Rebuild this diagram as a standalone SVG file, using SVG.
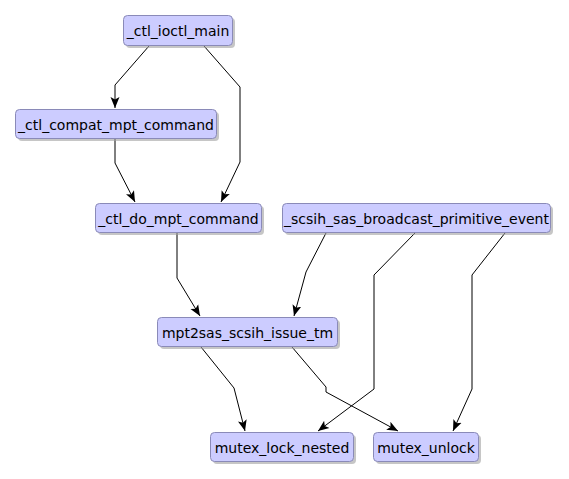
<svg xmlns="http://www.w3.org/2000/svg" width="569" height="479" viewBox="0 0 569 479">
<style>
.shadow{fill:#a0a0a0;opacity:0.6}
.box{fill:#ccccff;stroke:#8a8ab8;stroke-width:1}
.lbl{font-family:"DejaVu Sans",sans-serif;font-size:14px;fill:#000;text-anchor:middle}
.edge{fill:none;stroke:#000;stroke-width:1;marker-end:url(#arr)}
</style>
<defs>
<marker id="arr" viewBox="0 0 11 10" refX="11" refY="5" markerWidth="11" markerHeight="10" markerUnits="userSpaceOnUse" orient="auto">
<path d="M0,0.5 L11,5 L0,9.5 L2.5,5 Z" fill="#000"/>
</marker>
</defs>
<rect width="569" height="479" fill="#fff"/>
<g id="connectors">
<polyline class="edge" points="149,46 115,85 115,108"/>
<polyline class="edge" points="204,46 240,87 240,162 221,202"/>
<polyline class="edge" points="115,138 115,163 135,202"/>
<polyline class="edge" points="177,232 177,278 200,316"/>
<polyline class="edge" points="326,233 306,272 294,316"/>
<polyline class="edge" points="415,233 374,275 374,389 318,431"/>
<polyline class="edge" points="505,233 472,275 472,389 453,431"/>
<polyline class="edge" points="201,347 234,388 245,431"/>
<polyline class="edge" points="292,347 326,387 326,392 398,431"/>
</g>
<g id="n_ctl_ioctl_main">
<rect class="shadow" x="126" y="18" width="109" height="30" rx="4"/>
<rect class="box" x="123.5" y="15.5" width="109" height="30" rx="4"/>
<text class="lbl" x="178" y="35.5">_ctl_ioctl_main</text>
</g>
<g id="n_ctl_compat_mpt_command">
<rect class="shadow" x="18" y="112" width="201" height="29" rx="4"/>
<rect class="box" x="15.5" y="109.5" width="201" height="29" rx="4"/>
<text class="lbl" x="116" y="129.5">_ctl_compat_mpt_command</text>
</g>
<g id="n_ctl_do_mpt_command">
<rect class="shadow" x="98" y="206" width="166" height="29" rx="4"/>
<rect class="box" x="95.5" y="203.5" width="166" height="29" rx="4"/>
<text class="lbl" x="178.5" y="223.5">_ctl_do_mpt_command</text>
</g>
<g id="n_scsih_sas_broadcast_primitive_event">
<rect class="shadow" x="285" y="206" width="268" height="29" rx="4"/>
<rect class="box" x="282.5" y="203.5" width="268" height="29" rx="4"/>
<text class="lbl" x="416.5" y="223.5">_scsih_sas_broadcast_primitive_event</text>
</g>
<g id="n_mpt2sas_scsih_issue_tm">
<rect class="shadow" x="160" y="320" width="180" height="29" rx="4"/>
<rect class="box" x="157.5" y="317.5" width="180" height="29" rx="4"/>
<text class="lbl" x="247.5" y="337.5">mpt2sas_scsih_issue_tm</text>
</g>
<g id="n_mutex_lock_nested">
<rect class="shadow" x="213" y="435" width="143" height="29" rx="4"/>
<rect class="box" x="210.5" y="432.5" width="143" height="29" rx="4"/>
<text class="lbl" x="282" y="452.5">mutex_lock_nested</text>
</g>
<g id="n_mutex_unlock">
<rect class="shadow" x="376" y="435" width="105" height="29" rx="4"/>
<rect class="box" x="373.5" y="432.5" width="105" height="29" rx="4"/>
<text class="lbl" x="426" y="452.5">mutex_unlock</text>
</g>
</svg>
